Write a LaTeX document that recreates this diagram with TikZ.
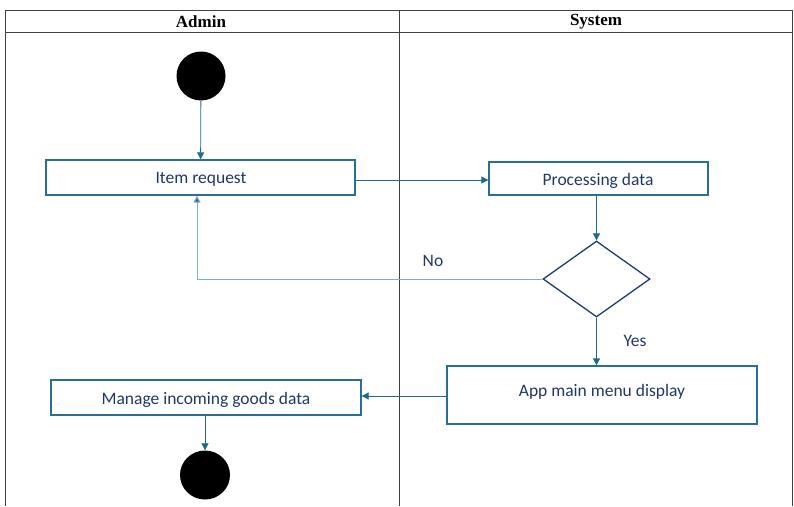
\documentclass[tikz,border=0pt]{standalone}
\usepackage{fontspec}
\setmainfont{Liberation Serif}
\newfontfamily\calfont{Carlito}
\usetikzlibrary{arrows.meta,shapes.geometric}
\definecolor{boxc}{HTML}{2A6F8F}
\definecolor{txtc}{HTML}{1F3864}
\definecolor{arrc}{HTML}{1F6A8A}
\definecolor{noc}{HTML}{7DAFC8}
\definecolor{diac}{HTML}{1F3C6E}
\tikzset{
  actbox/.style={draw=boxc, line width=1.3pt, inner sep=0pt},
  flow/.style={draw=arrc, line width=0.8pt, -{Triangle[length=7pt,width=7pt]}},
  lane/.style={draw=black!75, line width=0.8pt},
  hdr/.style={font=\bfseries\fontsize{17}{19}\selectfont},
  lbl/.style={font=\calfont\fontsize{17.5}{19}\selectfont, text=txtc}
}
\begin{document}
\begin{tikzpicture}[x=1pt,y=-1pt]
\useasboundingbox (0,0) rectangle (794,506);
% swimlanes
\draw[lane] (5,506) -- (5,10) -- (792,10) -- (792,506);
\draw[lane] (5,32) -- (792,32);
\draw[lane] (399,10) -- (399,506);
\node[hdr] (hadmin) at (201,22) {Admin};
\node[hdr] (hsys) at (596,22) {System};
% nodes
\node[circle, fill=black, minimum size=49pt, inner sep=0pt] (start) at (201,76) {};
\node[actbox, minimum width=309pt, minimum height=35pt] (req) at (200.5,177.5) {};
\node[lbl] (reqt) at (201,179.5) {Item request};
\node[actbox, minimum width=219pt, minimum height=33pt] (proc) at (598.5,178.5) {};
\node[lbl] (proct) at (598,181) {Processing data};
\node[diamond, draw=diac, line width=1.3pt, minimum width=107pt, minimum height=76pt, inner sep=0pt] (dec) at (596.5,279) {};
\node[actbox, minimum width=310pt, minimum height=58pt] (menu) at (602,395) {};
\node[lbl] (menut) at (602,392) {App main menu display};
\node[actbox, minimum width=310pt, minimum height=35pt] (manage) at (206,397.5) {};
\node[lbl] (managet) at (206,400) {Manage incoming goods data};
\node[ellipse, fill=black, minimum width=50pt, minimum height=49pt, inner sep=0pt] (end) at (205,475) {};
% connectors
\draw[flow] (start) -- (req);
\draw[flow] (req.east |- 0,180) -- (proc.west |- 0,180);
\draw[flow] (proc.south -| dec.north) -- (dec.north);
\draw[draw=noc, line width=1pt, -{Triangle[length=7pt,width=7pt,fill=arrc]}] (dec.west) -| (req.south -| 197,0);
\node[lbl] (no) at (433,261) {No};
\draw[flow] (dec.south) -- (menu.north -| dec.south);
\node[lbl] (yes) at (635,341) {Yes};
\draw[flow] (menu.west |- 0,396) -- (manage.east |- 0,396);
\draw[flow] (manage.south -| 205,0) -- (end.north);
\end{tikzpicture}
\end{document}
